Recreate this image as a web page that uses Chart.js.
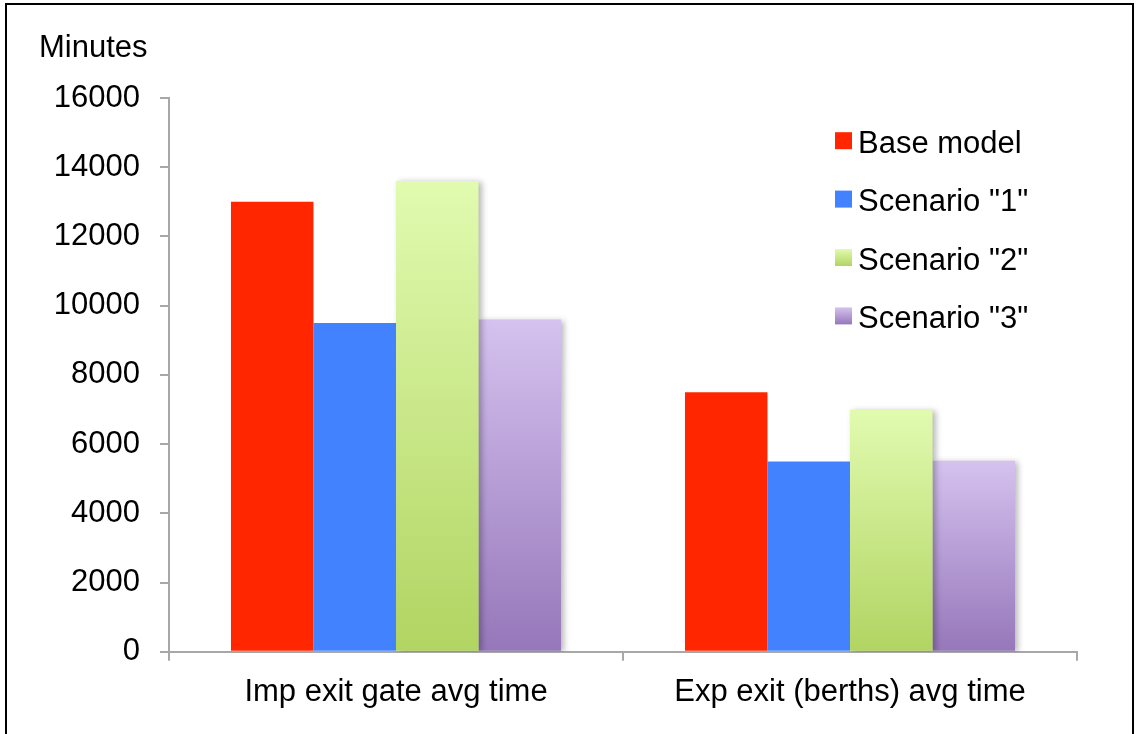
<!DOCTYPE html>
<html>
<head>
<meta charset="utf-8">
<title>Average exit times</title>
<script src="https://cdn.jsdelivr.net/npm/chart.js@4/dist/chart.umd.min.js"></script>
<style>
  html, body { margin: 0; padding: 0; background: #fff; overflow: hidden; }
  #wrap { position: relative; width: 1136px; height: 734px; }
  #frame { position: absolute; left: 5px; top: 3px; width: 1125px; height: 800px;
           border: 2px solid #000; pointer-events: none; }
  canvas { display: block; }
</style>
</head>
<body>
<div id="wrap">
  <canvas id="chart" width="1136" height="734"></canvas>
  <div id="frame"></div>
</div>
<script>
// Categories and series values (minutes)
const categories = ['Imp exit gate avg time', 'Exp exit (berths) avg time'];
const seriesNames = ['Base model', 'Scenario "1"', 'Scenario "2"', 'Scenario "3"'];
const baseModel = [13000, 7500];
const scenario1 = [9500, 5500];
const scenario2 = [13600, 7000];
const scenario3 = [9600, 5520];
const yTickValues = [0, 2000, 4000, 6000, 8000, 10000, 12000, 14000, 16000];
const axisTitle = 'Minutes';

const FONT_FAMILY = '"Liberation Sans", Arial, Helvetica, sans-serif';
const FONT_SIZE = 31;
const AXIS_GREY = '#a8a8a8';

// Fill colours: [top, bottom] of each bar's vertical gradient
const fills = [
  ['#ff2600', '#ff2600'],
  ['#4282ff', '#4282ff'],
  ['#e1fbb0', '#b1d462'],
  ['#d5c2ef', '#9677ba']
];

function barGradient(idx) {
  return function (ctx) {
    const [top, bottom] = fills[idx];
    if (top === bottom) return top;
    const chart = ctx.chart;
    if (!chart.chartArea || ctx.type !== 'data' || !ctx.parsed) return top;
    const y = chart.scales.y;
    const yTop = y.getPixelForValue(ctx.parsed.y);
    const yBot = y.getPixelForValue(0);
    const g = chart.ctx.createLinearGradient(0, yTop, 0, yBot);
    g.addColorStop(0, top);
    g.addColorStop(1, bottom);
    return g;
  };
}

// Soft shadow behind the gradient-filled series
const barShadow = {
  id: 'barShadow',
  beforeDatasetDraw(chart, args) {
    if (!chart.data.datasets[args.index].shadow) return;
    const c = chart.ctx;
    c.save();
    c.shadowColor = 'rgba(0,0,0,0.28)';
    c.shadowBlur = 6;
    c.shadowOffsetX = 3;
    c.shadowOffsetY = 1;
  },
  afterDatasetDraw(chart, args) {
    if (!chart.data.datasets[args.index].shadow) return;
    chart.ctx.restore();
  }
};

// Axis unit label and the series key in the upper right
const keyAndUnit = {
  id: 'keyAndUnit',
  afterDraw(chart) {
    const c = chart.ctx;
    c.save();
    c.font = FONT_SIZE + 'px ' + FONT_FAMILY;
    c.fillStyle = '#000';
    c.textAlign = 'left';
    c.textBaseline = 'alphabetic';
    c.fillText(axisTitle, 39, 57);

    const boxX = 835, box = 17, textX = 858, firstY = 140.7, step = 58.4;
    chart.data.datasets.forEach((ds, i) => {
      const cy = firstY + i * step;
      const [top, bottom] = fills[i];
      const g = c.createLinearGradient(0, cy - box / 2, 0, cy + box / 2);
      g.addColorStop(0, top);
      g.addColorStop(1, bottom);
      c.fillStyle = g;
      c.fillRect(boxX, cy - box / 2, box, box);
      c.fillStyle = '#000';
      c.fillText(ds.label, textX, cy + 12);
    });
    c.restore();
  }
};

const seriesValues = [baseModel, scenario1, scenario2, scenario3];

new Chart(document.getElementById('chart'), {
  type: 'bar',
  data: {
    labels: categories,
    datasets: seriesValues.map((vals, i) => ({
      label: seriesNames[i],
      data: vals,
      backgroundColor: barGradient(i),
      borderWidth: 0,
      categoryPercentage: 0.727,
      barPercentage: 1.0,
      shadow: i >= 2
    }))
  },
  options: {
    responsive: false,
    animation: false,
    devicePixelRatio: 1,
    layout: { padding: { left: 0, top: 98, right: 59, bottom: 10 } },
    plugins: {
      legend: { display: false },
      title: { display: false },
      tooltip: { enabled: false }
    },
    scales: {
      x: {
        grid: {
          display: true,
          drawOnChartArea: false,
          offset: true,
          tickLength: 9,
          color: AXIS_GREY,
          lineWidth: 2
        },
        border: { display: true, color: AXIS_GREY, width: 2 },
        ticks: {
          color: '#000',
          padding: 13,
          font: { family: FONT_FAMILY, size: FONT_SIZE }
        }
      },
      y: {
        min: 0,
        max: 16000,
        afterBuildTicks(scale) {
          scale.ticks = yTickValues.map(v => ({ value: v }));
        },
        afterFit(scale) { scale.width = 169; },
        grid: {
          display: true,
          drawOnChartArea: false,
          tickLength: 9,
          color: AXIS_GREY,
          lineWidth: 2
        },
        border: { display: true, color: AXIS_GREY, width: 2 },
        ticks: {
          color: '#000',
          padding: 20,
          font: { family: FONT_FAMILY, size: FONT_SIZE },
          callback: v => String(v)
        }
      }
    }
  },
  plugins: [barShadow, keyAndUnit]
});
</script>
</body>
</html>
